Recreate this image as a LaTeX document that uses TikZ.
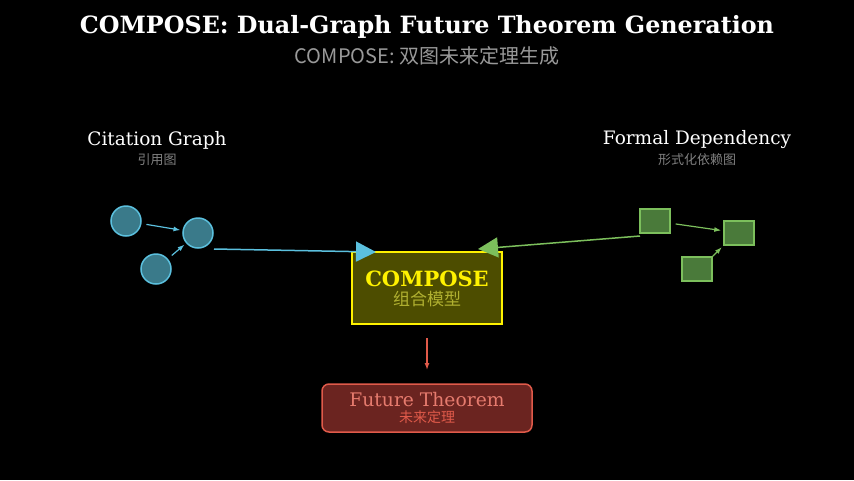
\documentclass[tikz,border=0pt]{standalone}
\usepackage{fontspec}
\setmainfont{DejaVu Serif}
\newfontfamily\cjk{Noto Sans CJK SC}
\usetikzlibrary{arrows.meta,positioning}
\definecolor{cyanline}{HTML}{5BC0DE}
\definecolor{cyanfill}{HTML}{3A7A8A}
\definecolor{greenline}{HTML}{7CBF5C}
\definecolor{greenfill}{HTML}{4A7A3A}
\definecolor{boxfill}{HTML}{4D4D00}
\definecolor{oliveText}{HTML}{B0B030}
\definecolor{redline}{HTML}{E05A4A}
\definecolor{redfill}{HTML}{6B2420}
\begin{document}
\begin{tikzpicture}[x=1pt,y=-1pt,
  cite_node/.style={circle,draw=cyanline,fill=cyanfill,line width=1.5pt,minimum size=30pt,inner sep=0pt},
  dep_node/.style={rectangle,draw=greenline,fill=greenfill,line width=1.5pt,minimum width=30pt,minimum height=24pt,inner sep=0pt},
  small_edge/.style={-{Latex[length=7pt,width=5pt]},line width=1.2pt,shorten <=5pt,shorten >=2pt},
  big_edge/.style={-{Triangle[length=20pt,width=20pt]},line width=1.5pt},
  head_style/.style={text=white,font=\fontsize{18.5}{18.5}\selectfont},
  sub_style/.style={text=gray,font=\cjk\fontsize{13}{13}\selectfont}]
  \fill[black] (0,0) rectangle (854,480);
  \node[text=white,font=\bfseries\fontsize{23.8}{23.8}\selectfont] (title) at (427,27) {COMPOSE: Dual-Graph Future Theorem Generation};
  \node[text=gray!80,font=\cjk\fontsize{20}{20}\selectfont] (subtitle) at (427,56) {COMPOSE: 双图未来定理生成};
  % citation graph
  \node[head_style] (citehead) at (157,140) {Citation Graph};
  \node[sub_style] (citesub) at (157,160) {引用图};
  \node[cite_node] (c1) at (126,221) {};
  \node[cite_node] (c2) at (198,233) {};
  \node[cite_node] (c3) at (156,269) {};
  \draw[small_edge,cyanline] (c1) -- (c2);
  \draw[small_edge,cyanline] (c3) -- (c2);
  % formal dependency
  \node[head_style] (dephead) at (697,140) {Formal Dependency};
  \node[sub_style] (depsub) at (697,160) {形式化依赖图};
  \node[dep_node] (d1) at (655,221) {};
  \node[dep_node] (d2) at (739,233) {};
  \node[dep_node] (d3) at (697,269) {};
  \draw[small_edge,greenline] (d1) -- (d2);
  \draw[small_edge,greenline,shorten <=0pt] (d3.north east) -- (d2.south west);
  % model
  \node[draw=yellow,fill=boxfill,line width=1.5pt,minimum width=150pt,minimum height=72pt] (compose) at (427,288) {};
  \node[text=yellow,font=\bfseries\fontsize{21}{21}\selectfont] (composetxt) at (427,279) {COMPOSE};
  \node[text=oliveText,font=\cjk\fontsize{17}{17}\selectfont] (composesub) at (427,299) {组合模型};
  \coordinate (cout) at (214,249);
  \coordinate (cin) at (376,252);
  \coordinate (gout) at (640,236);
  \coordinate (gin) at (478,249);
  \draw[big_edge,cyanline] (cout) -- (cin);
  \draw[big_edge,greenline] (gout) -- (gin);
  % output
  \node[draw=redline,fill=redfill,line width=1.5pt,rounded corners=7pt,minimum width=210pt,minimum height=48pt] (future) at (427,408) {};
  \node[text=redline!80!white,font=\fontsize{18.7}{18.7}\selectfont] (futuretxt) at (427,400) {Future Theorem};
  \node[text=redline,font=\cjk\fontsize{14}{14}\selectfont] (futuresub) at (427,417) {未来定理};
  \coordinate (rtop) at (427,338);
  \coordinate (rbot) at (427,370);
  \draw[-{Latex[length=7pt,width=5pt]},line width=1.3pt,redline] (rtop) -- (rbot);
\end{tikzpicture}
\end{document}
